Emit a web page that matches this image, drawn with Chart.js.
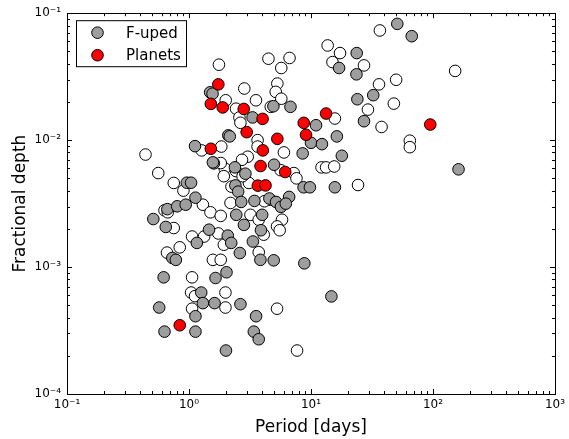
<!DOCTYPE html>
<html>
<head>
<meta charset="utf-8">
<script src="https://cdn.jsdelivr.net/npm/chart.js@4"></script>
<style>
  html, body { margin: 0; padding: 0; background: #fff; }
  canvas { display: block; }
</style>
</head>
<body>
<canvas id="chart" width="569" height="439"></canvas>
<script>
// values (period in days, fractional depth)
const otherPeriod = [1.76, 4.48, 6.67, 5.71, 2.84, 5.30, 5.14, 5.71, 3.54, 2.00, 4.68, 2.43, 2.59, 2.64, 3.65, 3.65, 1.84, 1.27, 6.0, 3.03,
  2.72, 1.96, 1.93, 2.43, 7.23, 7.60, 0.56, 0.75, 0.90, 0.44, 5.64, 3.1, 2.75, 1.82, 2.23, 0.63, 0.67, 0.75, 0.84, 0.66,
  1.06, 1.33, 1.06, 1.04, 1.12, 1.06, 1.99, 1.99, 1.57, 1.82, 5.27, 7.69, 1.30, 1.50, 1.82, 1.93, 2.19, 3.19, 3.73, 4.10,
  4.65, 5.79, 5.27, 5.54, 3.73, 4.15, 1.74, 13.7, 17.3, 15.0, 36.7, 27.2, 36.1, 49.9, 29.3, 47.8, 15.7, 37.9, 152, 64.6,
  64.6, 12.2, 13.3, 15.5, 24.3];
const otherDepth = [0.0393, 0.0438, 0.0444, 0.0370, 0.0255, 0.0279, 0.0240, 0.0212, 0.0206, 0.0206, 0.0183, 0.0177, 0.0151, 0.0137, 0.0100, 0.0089, 0.0089, 0.0083, 0.0080, 0.0074,
  0.0070, 0.0060, 0.0052, 0.0057, 0.0055, 0.0050, 0.0055, 0.0046, 0.0040, 0.0077, 0.0058, 0.0046, 0.0052, 0.0066, 0.0043, 0.0028, 0.0027, 0.00203, 0.00143, 0.00130,
  0.00174, 0.00174, 0.00083, 0.00063, 0.00059, 0.00047, 0.00063, 0.00048, 0.00114, 0.00114, 0.00047, 0.00022, 0.0031, 0.0027, 0.00253, 0.0015, 0.0032, 0.00258, 0.00236, 0.0018,
  0.00339, 0.00236, 0.00209, 0.00195, 0.00131, 0.0033, 0.00184, 0.0557, 0.0485, 0.0412, 0.0731, 0.0388, 0.0275, 0.0299, 0.0174, 0.0194, 0.0148, 0.0127, 0.0351, 0.0099,
  0.0088, 0.0061, 0.0061, 0.0062, 0.00443];

const fupedPeriod = [1.49, 1.56, 3.32, 4.92, 6.79, 2.10, 2.16, 1.12, 4.98, 2.38, 2.90, 1.60, 1.57, 0.96, 1.04, 1.13, 2.40, 2.53, 2.68, 3.44,
  4.56, 5.17, 5.67, 6.62, 6.22, 51, 67, 23.7, 17.0, 23.6, 32.4, 24.0, 27.2, 11.0, 16.3, 10.0, 12.3, 8.55, 17.9, 162,
  8.7, 9.8, 15.7, 0.51, 0.645, 0.665, 0.80, 0.94, 1.16, 1.46, 0.73, 0.78, 0.62, 1.65, 2.03, 1.26, 1.30, 1.62, 2.64, 0.57,
  1.13, 3.55, 0.63, 1.13, 3.40, 3.73, 2.01, 2.44, 2.82, 2.08, 2.22, 2.61, 3.34, 3.85, 4.95, 8.82, 3.98, 3.89, 14.7];
const fupedDepth = [0.0238, 0.0232, 0.0151, 0.0185, 0.0183, 0.0109, 0.0107, 0.00897, 0.0064, 0.0061, 0.00544, 0.00656, 0.00668, 0.00462, 0.00462, 0.00352, 0.0044, 0.00393, 0.00326, 0.00332,
  0.00347, 0.00326, 0.00298, 0.00357, 0.00316, 0.0824, 0.0659, 0.0485, 0.0370, 0.0330, 0.0226, 0.0210, 0.0141, 0.0131, 0.0107, 0.00953, 0.0093, 0.00786, 0.00753, 0.00589,
  0.00425, 0.00425, 0.00425, 0.00239, 0.00207, 0.00286, 0.00301, 0.00310, 0.00155, 0.00197, 0.00118, 0.00114, 0.00083, 0.00082, 0.00091, 0.00063, 0.00052, 0.00052, 0.00051, 0.00048,
  0.00041, 0.00041, 0.00031, 0.00031, 0.00031, 0.00027, 0.00022, 0.00258, 0.00215, 0.00177, 0.00155, 0.00129, 0.00159, 0.00114, 0.00113, 0.00107, 0.00258, 0.00195, 0.000587];

const planetPeriod = [1.74, 1.51, 1.89, 2.81, 4.01, 2.97, 5.30, 1.51, 4.03, 3.86, 6.15, 3.67, 4.24, 8.72, 9.11, 13.3, 95, 0.84];
const planetDepth = [0.0275, 0.0193, 0.0181, 0.0176, 0.0147, 0.01156, 0.01024, 0.00855, 0.0083, 0.00625, 0.00561, 0.00438, 0.0044, 0.01368, 0.01102, 0.0162, 0.01327, 0.000348];

const xTicks = [0.1, 1, 10, 100, 1000];
const xTickLabels = ['10⁻¹', '10⁰', '10¹', '10²', '10³'];
const yTicks = [1e-4, 1e-3, 1e-2, 1e-1];
const yTickLabels = ['10⁻⁴', '10⁻³', '10⁻²', '10⁻¹'];

const FONT = 'DejaVu Sans';
const R = 5.8;

const toPoints = (px, py) => px.map((p, i) => ({ x: p, y: py[i] }));

// inward ticks on all four sides plus the frame, like the original plot
const frameTicks = {
  id: 'frameTicks',
  afterDatasetsDraw(chart) {
    const { ctx, chartArea: a, scales: { x, y } } = chart;
    const snap = v => Math.round(v) + 0.5;
    ctx.save();
    ctx.strokeStyle = '#000';
    ctx.lineWidth = 1;
    ctx.beginPath();
    const mark = (px, len, vertical) => {
      const p = snap(px);
      if (vertical) {
        ctx.moveTo(p, a.bottom); ctx.lineTo(p, a.bottom - len);
        ctx.moveTo(p, a.top); ctx.lineTo(p, a.top + len);
      } else {
        ctx.moveTo(a.left, p); ctx.lineTo(a.left + len, p);
        ctx.moveTo(a.right, p); ctx.lineTo(a.right - len, p);
      }
    };
    xTicks.forEach((v, i) => {
      mark(x.getPixelForValue(v), 5, true);
      if (i < xTicks.length - 1) for (let m = 2; m < 10; m++) mark(x.getPixelForValue(v * m), 3, true);
    });
    yTicks.forEach((v, i) => {
      mark(y.getPixelForValue(v), 5, false);
      if (i < yTicks.length - 1) for (let m = 2; m < 10; m++) mark(y.getPixelForValue(v * m), 3, false);
    });
    ctx.stroke();
    ctx.strokeRect(snap(a.left), snap(a.top), Math.round(a.right - a.left), Math.round(a.bottom - a.top));
    ctx.restore();
  }
};

// boxed legend in the upper left corner of the plot
const boxLegend = {
  id: 'boxLegend',
  afterDraw(chart) {
    const { ctx, chartArea: a } = chart;
    const items = chart.data.datasets.filter(d => d.label);
    ctx.save();
    ctx.fillStyle = '#fff';
    ctx.strokeStyle = '#000';
    ctx.lineWidth = 1;
    ctx.fillRect(a.left + 9.5, a.top + 7.5, 110, 46);
    ctx.strokeRect(a.left + 9.5, a.top + 7.5, 110, 46);
    ctx.font = '15px "' + FONT + '"';
    ctx.textBaseline = 'middle';
    items.forEach((d, i) => {
      const cy = a.top + 19.5 + i * 22.5;
      ctx.beginPath();
      ctx.arc(a.left + 30.5, cy, R, 0, Math.PI * 2);
      ctx.fillStyle = d.backgroundColor;
      ctx.fill();
      ctx.stroke();
      ctx.fillStyle = '#000';
      ctx.fillText(d.label, a.left + 59, cy + 1);
    });
    ctx.restore();
  }
};

const pointStyle = { borderColor: '#000', borderWidth: 1, pointRadius: R, pointHoverRadius: R };

new Chart(document.getElementById('chart').getContext('2d'), {
  type: 'scatter',
  data: {
    datasets: [
      Object.assign({ label: 'F-uped', data: toPoints(fupedPeriod, fupedDepth), backgroundColor: '#9e9e9e', order: 1 }, pointStyle),
      Object.assign({ label: 'Planets', data: toPoints(planetPeriod, planetDepth), backgroundColor: '#ff0000', order: 0 }, pointStyle),
      Object.assign({ label: '', data: toPoints(otherPeriod, otherDepth), backgroundColor: '#ffffff', order: 2 }, pointStyle)
    ]
  },
  options: {
    responsive: false,
    animation: false,
    layout: { padding: { left: 0, top: 13, right: 10, bottom: 0 } },
    plugins: { legend: { display: false }, tooltip: { enabled: false } },
    scales: {
      x: {
        type: 'logarithmic',
        min: 0.1,
        max: 1000,
        afterBuildTicks: s => { s.ticks = xTicks.map(v => ({ value: v })); },
        afterFit: s => { s.height = 45; },
        grid: { display: false, drawTicks: false },
        border: { display: false },
        ticks: {
          autoSkip: false, maxRotation: 0, padding: 4, color: '#000',
          font: { family: FONT, size: 12 },
          callback: v => xTickLabels[xTicks.indexOf(v)]
        },
        title: { display: true, text: 'Period [days]', color: '#000', font: { family: FONT, size: 17 }, padding: { top: 0, bottom: 1 } }
      },
      y: {
        type: 'logarithmic',
        min: 1e-4,
        max: 0.1,
        afterBuildTicks: s => { s.ticks = yTicks.map(v => ({ value: v })); },
        afterFit: s => { s.width = 67; },
        grid: { display: false, drawTicks: false },
        border: { display: false },
        ticks: {
          autoSkip: false, padding: 6, color: '#000',
          font: { family: FONT, size: 12 },
          callback: v => yTickLabels[yTicks.indexOf(v)]
        },
        title: { display: true, text: 'Fractional depth', color: '#000', font: { family: FONT, size: 17 }, padding: { top: 10, bottom: 0 } }
      }
    }
  },
  plugins: [frameTicks, boxLegend]
});
</script>
</body>
</html>
